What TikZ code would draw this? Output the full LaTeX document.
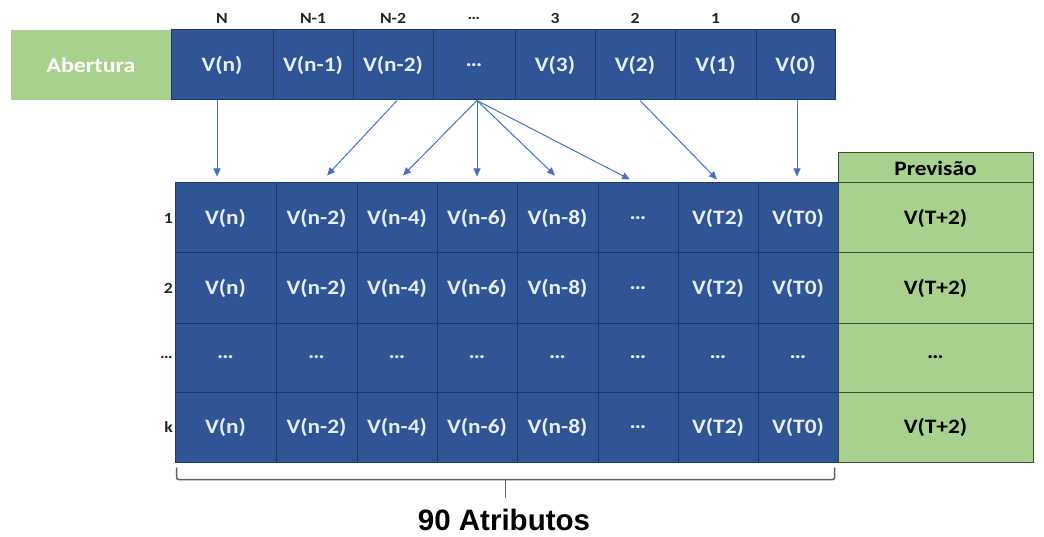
\documentclass[tikz,border=0pt]{standalone}
\usepackage{fontspec}
\setmainfont{Carlito}[FakeStretch=1.14]
\newfontfamily\arialf{Liberation Sans}
\usetikzlibrary{arrows.meta,calc}
\definecolor{cellblue}{HTML}{2F5597}
\definecolor{cellline}{HTML}{1F3864}
\definecolor{celltext}{HTML}{E8EEF8}
\definecolor{pgreen}{HTML}{A9D18E}
\definecolor{gline}{HTML}{3B4A33}
\definecolor{arrowblue}{HTML}{4472C4}
\definecolor{bracegray}{HTML}{5F6268}
\definecolor{labgray}{HTML}{262626}
\begin{document}
\begin{tikzpicture}[x=1pt,y=-1pt,
  bluecell/.style={draw=cellline, line width=1pt, fill=cellblue, text=celltext, inner sep=0pt, font=\fontsize{20.5}{22}\selectfont\bfseries},
  greencell/.style={draw=gline, line width=1pt, fill=pgreen, text=black, inner sep=0pt, font=\fontsize{20.5}{22}\selectfont\bfseries},
  collab/.style={text=labgray, font=\fontsize{15.5}{16}\selectfont\bfseries, inner sep=0pt},
  conn/.style={draw=arrowblue, line width=1pt, -{Triangle[length=8pt,width=7pt]}},
  bracel/.style={draw=bracegray, line width=1.5pt, rounded corners=2pt}]
\useasboundingbox (0,0) rectangle (1044,537);
\fill[white] (0,0) rectangle (1044,537);
% top row
\node[fill=pgreen, minimum width=160, minimum height=70, inner sep=0pt, text=white,
      font=\fontsize{21}{22}\selectfont\bfseries] (ab) at (91,65) {Abertura};
\foreach \l/\r/\txt/\hd [count=\i] in {171/273/V(n)/N, 273/353/V(n-1)/N-1, 353/433/V(n-2)/N-2,
   433/515/\ldots/\ldots, 515/595/V(3)/3, 595/675/V(2)/2, 675/756/V(1)/1, 756/835/V(0)/0}{
  \node[bluecell, minimum width={\r-\l}, minimum height=70] (t\i) at ({(\l+\r)/2},65) {\txt};
  \node[collab] (h\i) at ({(\l+\r)/2},18) {\hd};
}
% bottom table
\node[greencell, minimum width=195, minimum height=30] (ph) at (935.5,168) {Previsão};
\foreach \tp/\bt/\rl [count=\j] in {183/253/1, 253/323/2, 323/392/\ldots, 392/462/k}{
  \node[collab, anchor=east] (r\j) at (173,{(\tp+\bt)/2}) {\rl};
  \foreach \l/\r/\txt [count=\i] in {175/276/V(n), 276/357/V(n-2), 357/437/V(n-4), 437/517/V(n-6),
     517/598/V(n-8), 598/678/\ldots, 678/758/V(T2), 758/838/V(T0)}{
    \node[bluecell, minimum width={\r-\l}, minimum height={\bt-\tp}] (c\j\i) at ({(\l+\r)/2},{(\tp+\bt)/2}) {\ifnum\j=3 \ldots\else\txt\fi};
  }
  \node[greencell, minimum width=195, minimum height={\bt-\tp}] (p\j) at (935.5,{(\tp+\bt)/2}) {\ifnum\j=3 \ldots\else V(T+2)\fi};
}
% arrows
\draw[conn] ([xshift=-5pt]t1.south) -- ([xshift=-8.5pt,yshift=6pt]c11.north);
\draw[conn] ([xshift=4pt]t3.south) -- ([xshift=10.5pt,yshift=7pt]c12.north);
\draw[conn] ([xshift=3pt]t4.south) -- ([xshift=6pt,yshift=7pt]c13.north);
\draw[conn] ([xshift=3pt]t4.south) -- ([yshift=6pt]c14.north);
\draw[conn] ([xshift=3pt]t4.south) -- ([xshift=-2.5pt,yshift=7pt]c15.north);
\draw[conn] ([xshift=3pt]t4.south) -- ([xshift=-8pt,yshift=3pt]c16.north);
\draw[conn] ([xshift=5pt]t6.south) -- ([xshift=-1pt,yshift=3pt]c17.north);
\draw[conn] ([xshift=1.5pt]t8.south) -- ([xshift=-1pt,yshift=6pt]c18.north);
% brace
\coordinate (bl) at ([xshift=2pt,yshift=-5pt]c41.south west);
\coordinate (br) at ([xshift=-4pt,yshift=-5pt]c48.south east);
\draw[bracel] (bl) -- ([yshift=-12pt]bl) -- ([yshift=-12pt]br) -- (br);
\coordinate (bm) at ($(bl)!0.5!(br)+(0,12)$);
\draw[draw=bracegray, line width=1.5pt] (bm) -- ++(0,18);
\node[font=\arialf\bfseries\fontsize{29.5}{32}\selectfont, text=black, inner sep=0pt] (attr) at (504,520) {90 Atributos};
\end{tikzpicture}
\end{document}
